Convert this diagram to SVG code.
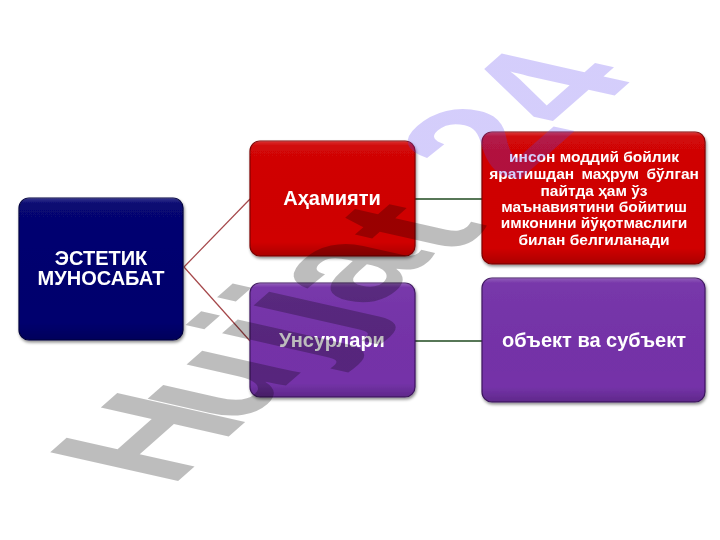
<svg xmlns="http://www.w3.org/2000/svg" width="720" height="540" viewBox="0 0 720 540">
<defs>
<style>
.lbl{font-family:"Liberation Sans",Arial,sans-serif;font-weight:bold;fill:#ffffff;text-anchor:middle}
.big{font-size:20px}
.small{font-size:15.5px}
.edge1{stroke:#a5474a;stroke-width:1.2;fill:none}
.edge2{stroke:#1f4a1f;stroke-width:1.6;fill:none}
.gloss{fill:url(#gloss)}
</style>
<filter id="sh" x="-10%" y="-10%" width="120%" height="125%">
<feDropShadow dx="1" dy="2" stdDeviation="1.8" flood-color="#000" flood-opacity="0.45"/>
</filter>
<linearGradient id="gloss" x1="0" y1="0" x2="0" y2="1">
<stop offset="0" stop-color="#fff" stop-opacity="0.22"/>
<stop offset="0.04" stop-color="#fff" stop-opacity="0.03"/>
<stop offset="0.88" stop-color="#000" stop-opacity="0"/>
<stop offset="1" stop-color="#000" stop-opacity="0.18"/>
</linearGradient>
<linearGradient id="wm" gradientUnits="userSpaceOnUse" x1="0" y1="0" x2="420" y2="0">
<stop offset="0" stop-color="#000"/>
<stop offset="0.66" stop-color="#000"/>
<stop offset="0.72" stop-color="#5a40f0"/>
<stop offset="1" stop-color="#5a40f0"/>
</linearGradient>
</defs>
<rect width="720" height="540" fill="#ffffff"/>

<g id="connectors">
<path class="edge1" d="M184,267 L250,199"/>
<path class="edge1" d="M184,267 L250,341"/>
<path class="edge2" d="M415,199 L482,199"/>
<path class="edge2" d="M415,341 L482,341"/>
</g>

<g id="estetik" filter="url(#sh)">
<rect x="19" y="198" width="164" height="142" rx="10" fill="#00006e" stroke="#000040" stroke-width="1.2"/>
<rect x="19" y="198" width="164" height="142" rx="10" class="gloss"/>
<text class="lbl big" x="101" y="265">ЭСТЕТИК</text>
<text class="lbl big" x="101" y="285">МУНОСАБАТ</text>
</g>

<g id="ahamiyati" filter="url(#sh)">
<rect x="250" y="141" width="165" height="115" rx="10" fill="#d00000" stroke="#800000" stroke-width="1.2"/>
<rect x="250" y="141" width="165" height="115" rx="10" class="gloss"/>
<text class="lbl big" x="332" y="205">Аҳамияти</text>
</g>

<g id="unsurlari" filter="url(#sh)">
<rect x="250" y="283" width="165" height="114" rx="10" fill="#7432a8" stroke="#3e1560" stroke-width="1.2"/>
<rect x="250" y="283" width="165" height="114" rx="10" class="gloss"/>
<text class="lbl big" x="332" y="347">Унсурлари</text>
</g>

<g id="description" filter="url(#sh)">
<rect x="482" y="132" width="223" height="132" rx="10" fill="#d00000" stroke="#800000" stroke-width="1.2"/>
<rect x="482" y="132" width="223" height="132" rx="10" class="gloss"/>
<text class="lbl small" x="594" y="162">инсон моддий бойлик</text>
<text class="lbl small" x="594" y="179" word-spacing="3">яратишдан маҳрум бўлган</text>
<text class="lbl small" x="594" y="195.5">пайтда ҳам ўз</text>
<text class="lbl small" x="594" y="212">маънавиятини бойитиш</text>
<text class="lbl small" x="594" y="228">имконини йўқотмаслиги</text>
<text class="lbl small" x="594" y="244.5">билан белгиланади</text>
</g>

<g id="obyekt" filter="url(#sh)">
<rect x="482" y="278" width="223" height="124" rx="10" fill="#7432a8" stroke="#3e1560" stroke-width="1.2"/>
<rect x="482" y="278" width="223" height="124" rx="10" class="gloss"/>
<text class="lbl big" x="594" y="347">объект ва субъект</text>
</g>

<text transform="matrix(1.14,-1.006,1.86,0.42,170.4,487.7)" x="0 60 124.5 152 177 232 303 357" y="0 0 0 0 0 9 0 0" font-family="Liberation Sans, Arial, sans-serif" font-weight="bold" font-size="100" fill="url(#wm)" fill-opacity="0.26">Hujjat24</text>
</svg>
